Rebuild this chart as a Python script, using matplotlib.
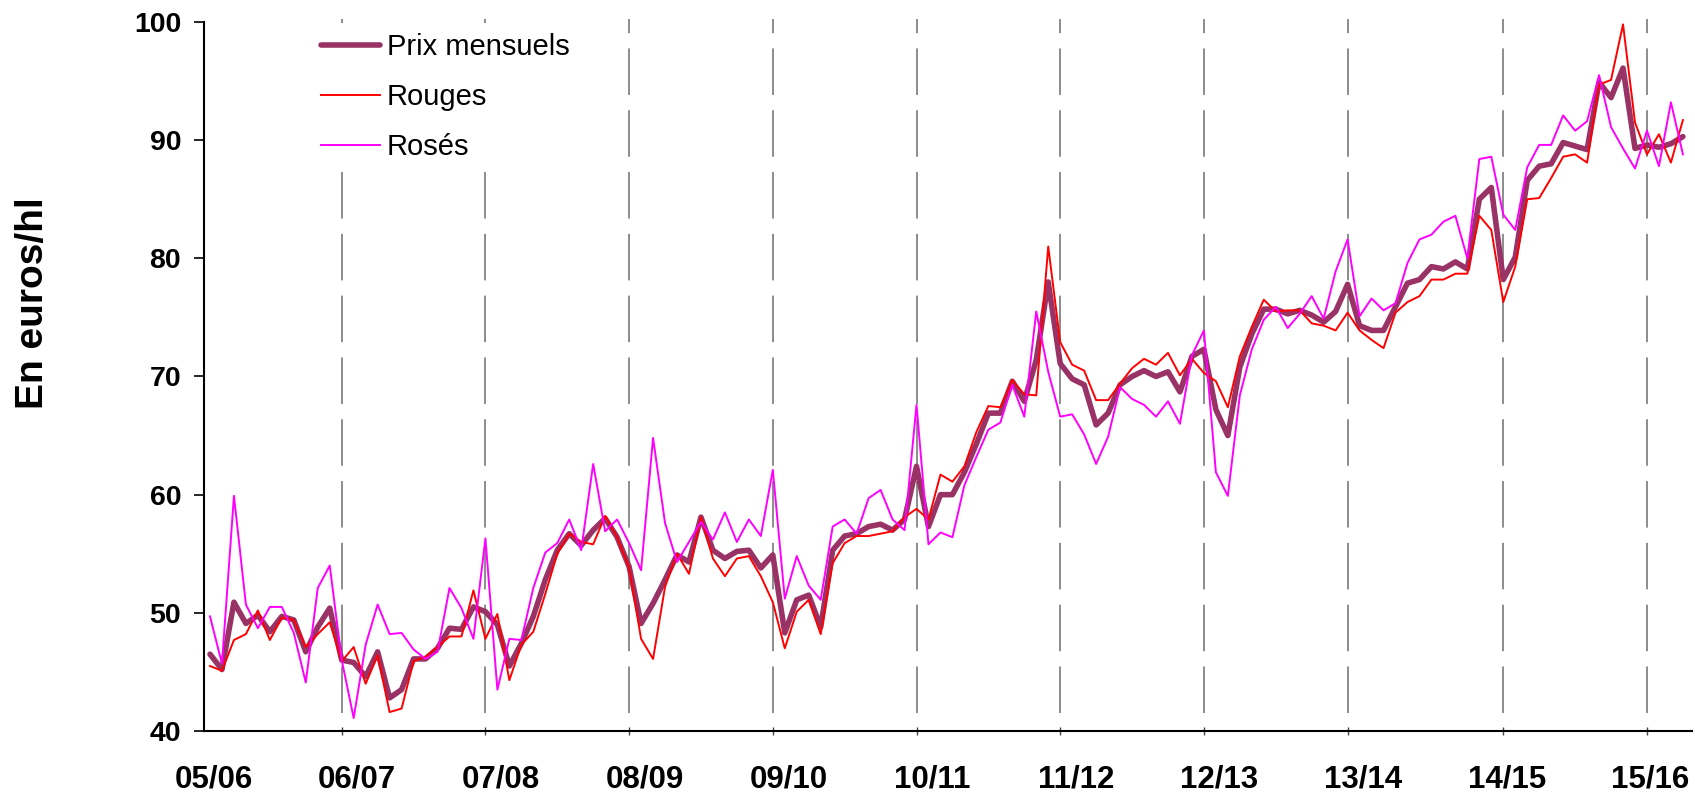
import numpy as np
import matplotlib
matplotlib.use("Agg")
from matplotlib import pyplot as plt

# monthly prices, euros/hl
prix = [46.5, 45.2, 50.9, 49.1, 49.8, 48.4, 49.7, 49.4, 46.7, 48.8, 50.4, 46.0,
        45.8, 44.6, 46.7, 42.8, 43.5, 46.1, 46.1, 47.0, 48.7, 48.6, 50.5, 50.1,
        49.0, 45.5, 47.4, 49.7, 52.8, 55.3, 56.7, 55.7, 57.0, 58.0, 56.4, 53.9,
        49.1, 50.8, 52.8, 54.9, 54.3, 58.1, 55.3, 54.6, 55.2, 55.3, 53.8, 54.9,
        48.3, 51.1, 51.5, 48.8, 55.3, 56.5, 56.7, 57.3, 57.5, 57.0, 57.9, 62.4,
        57.3, 60.0, 60.0, 61.9, 64.3, 66.9, 66.9, 69.6, 67.9, 71.4, 78.0, 71.1,
        69.8, 69.3, 65.9, 66.9, 69.3, 70.0, 70.5, 70.0, 70.4, 68.7, 71.7, 72.3,
        67.2, 65.0, 70.8, 73.6, 75.7, 75.7, 75.3, 75.6, 75.2, 74.6, 75.5, 77.8,
        74.3, 73.9, 73.9, 75.9, 77.9, 78.2, 79.3, 79.1, 79.7, 79.1, 85.0, 86.0,
        78.2, 80.1, 86.6, 87.8, 88.0, 89.8, 89.5, 89.2, 94.9, 93.6, 96.1, 89.3,
        89.6, 89.4, 89.7, 90.3]

rouges = [45.5, 45.1, 47.7, 48.2, 50.2, 47.7, 49.6, 49.4, 47.1, 48.2, 49.2, 45.9,
          47.1, 44.0, 46.4, 41.6, 41.9, 45.9, 46.3, 47.1, 48.0, 48.0, 51.9, 47.8,
          49.9, 44.3, 47.3, 48.4, 51.6, 55.0, 56.7, 56.0, 55.8, 58.2, 56.4, 53.8,
          47.8, 46.1, 52.2, 55.0, 53.3, 58.1, 54.6, 53.1, 54.6, 54.8, 53.1, 50.9,
          47.0, 50.1, 51.1, 48.2, 54.2, 55.9, 56.5, 56.5, 56.7, 56.9, 58.1, 58.8,
          57.9, 61.7, 61.1, 62.4, 65.3, 67.5, 67.4, 69.7, 68.5, 68.4, 81.0, 72.9,
          71.0, 70.5, 68.0, 68.0, 69.4, 70.7, 71.5, 71.0, 72.0, 70.1, 71.5, 70.3,
          69.6, 67.4, 71.7, 74.2, 76.5, 75.5, 75.6, 75.6, 74.5, 74.3, 73.9, 75.4,
          73.9, 73.1, 72.4, 75.4, 76.3, 76.8, 78.2, 78.2, 78.7, 78.7, 83.6, 82.4,
          76.3, 79.3, 85.0, 85.1, 86.8, 88.6, 88.8, 88.1, 94.7, 95.1, 99.8, 91.5,
          88.8, 90.5, 88.1, 91.7]

roses = [49.7, 45.7, 59.9, 50.7, 48.7, 50.5, 50.5, 48.3, 44.1, 52.1, 54.0, 46.0,
         41.1, 47.3, 50.7, 48.2, 48.3, 46.9, 46.1, 46.7, 52.1, 50.4, 47.8, 56.3,
         43.5, 47.8, 47.7, 52.1, 55.1, 55.9, 57.9, 55.3, 62.6, 56.9, 57.9, 55.9,
         53.6, 64.8, 57.6, 54.3, 56.0, 57.7, 56.2, 58.5, 56.0, 57.9, 56.5, 62.1,
         51.2, 54.8, 52.3, 51.1, 57.3, 57.9, 56.7, 59.7, 60.4, 57.9, 57.0, 67.6,
         55.8, 56.8, 56.4, 60.8, 63.2, 65.5, 66.1, 69.3, 66.6, 75.5, 70.4, 66.6,
         66.8, 65.1, 62.6, 64.9, 69.1, 68.1, 67.6, 66.6, 67.9, 66.0, 71.8, 73.9,
         61.9, 59.9, 68.4, 72.3, 74.8, 75.9, 74.1, 75.3, 76.8, 74.9, 78.9, 81.6,
         75.1, 76.6, 75.6, 76.2, 79.6, 81.6, 82.0, 83.1, 83.6, 80.0, 88.4, 88.6,
         83.7, 82.4, 87.7, 89.6, 89.6, 92.1, 90.8, 91.6, 95.5, 91.1, 89.3, 87.6,
         90.8, 87.8, 93.2, 88.8]

campagnes = ["05/06", "06/07", "07/08", "08/09", "09/10", "10/11",
             "11/12", "12/13", "13/14", "14/15", "15/16"]
# month index where each new campaign starts (dashed separators)
debut_campagne = [11, 23, 35, 47, 59, 71, 83, 95, 108, 120]

plt.rcParams['font.family'] = ['Liberation Sans', 'DejaVu Sans']
plt.rcParams['lines.scale_dashes'] = False

fig = plt.figure(figsize=(16.95, 7.95), dpi=100)
ax = fig.add_axes([204/1695, 1-731/795, 1488/1695, 709/795])

mois = np.arange(len(prix))

# dashed separators between campaigns
for x in debut_campagne:
    ax.plot([x, x], [41.52, 100.25], color='#6e6e6e', linewidth=1.1,
            dashes=(33.5, 11), clip_on=False, zorder=1)

ax.plot(mois, prix, color='#993366', linewidth=4.0, label='Prix mensuels',
        solid_joinstyle='round', solid_capstyle='round', zorder=2)
ax.plot(mois, rouges, color='#ff0000', linewidth=1.4, label='Rouges', zorder=3)
ax.plot(mois, roses, color='#ff00ff', linewidth=1.4, label='Rosés', zorder=3)

ax.set_xlim(-0.5, 123.76)
ax.set_ylim(40, 100)
ax.set_yticks(np.arange(40, 101, 10))
ax.tick_params(axis='y', direction='out', length=7.5, width=1.2, pad=9,
               labelsize=20.5)
for lab in ax.get_yticklabels():
    lab.set_fontweight('bold')

ax.set_xticks(debut_campagne)
ax.set_xticklabels([])
ax.tick_params(axis='x', which='major', direction='inout', length=6, width=1.0,
               color='#444444')
ax.set_xticks(np.arange(len(campagnes)) * 12 + 0.3, minor=True)
ax.set_xticklabels(campagnes, minor=True, fontsize=22.5, fontweight='bold')
ax.tick_params(axis='x', which='minor', length=0, pad=24)

for s in ['top', 'right']:
    ax.spines[s].set_visible(False)
for s in ['left', 'bottom']:
    ax.spines[s].set_linewidth(1.5)

fig.text(33/1695, 1-303/795, 'En euros/hl', rotation=90, ha='center',
         va='center', fontsize=28, fontweight='bold')

leg = ax.legend(loc='upper left', bbox_to_anchor=(311/1695, 1-23/795),
                bbox_transform=fig.transFigure, fontsize=21, frameon=True,
                facecolor='white', edgecolor='none', framealpha=1,
                handlelength=2.0, handletextpad=0.25, labelspacing=0.75,
                borderpad=0.35, borderaxespad=0, fancybox=False)

fig.savefig('out.png', dpi=100)
